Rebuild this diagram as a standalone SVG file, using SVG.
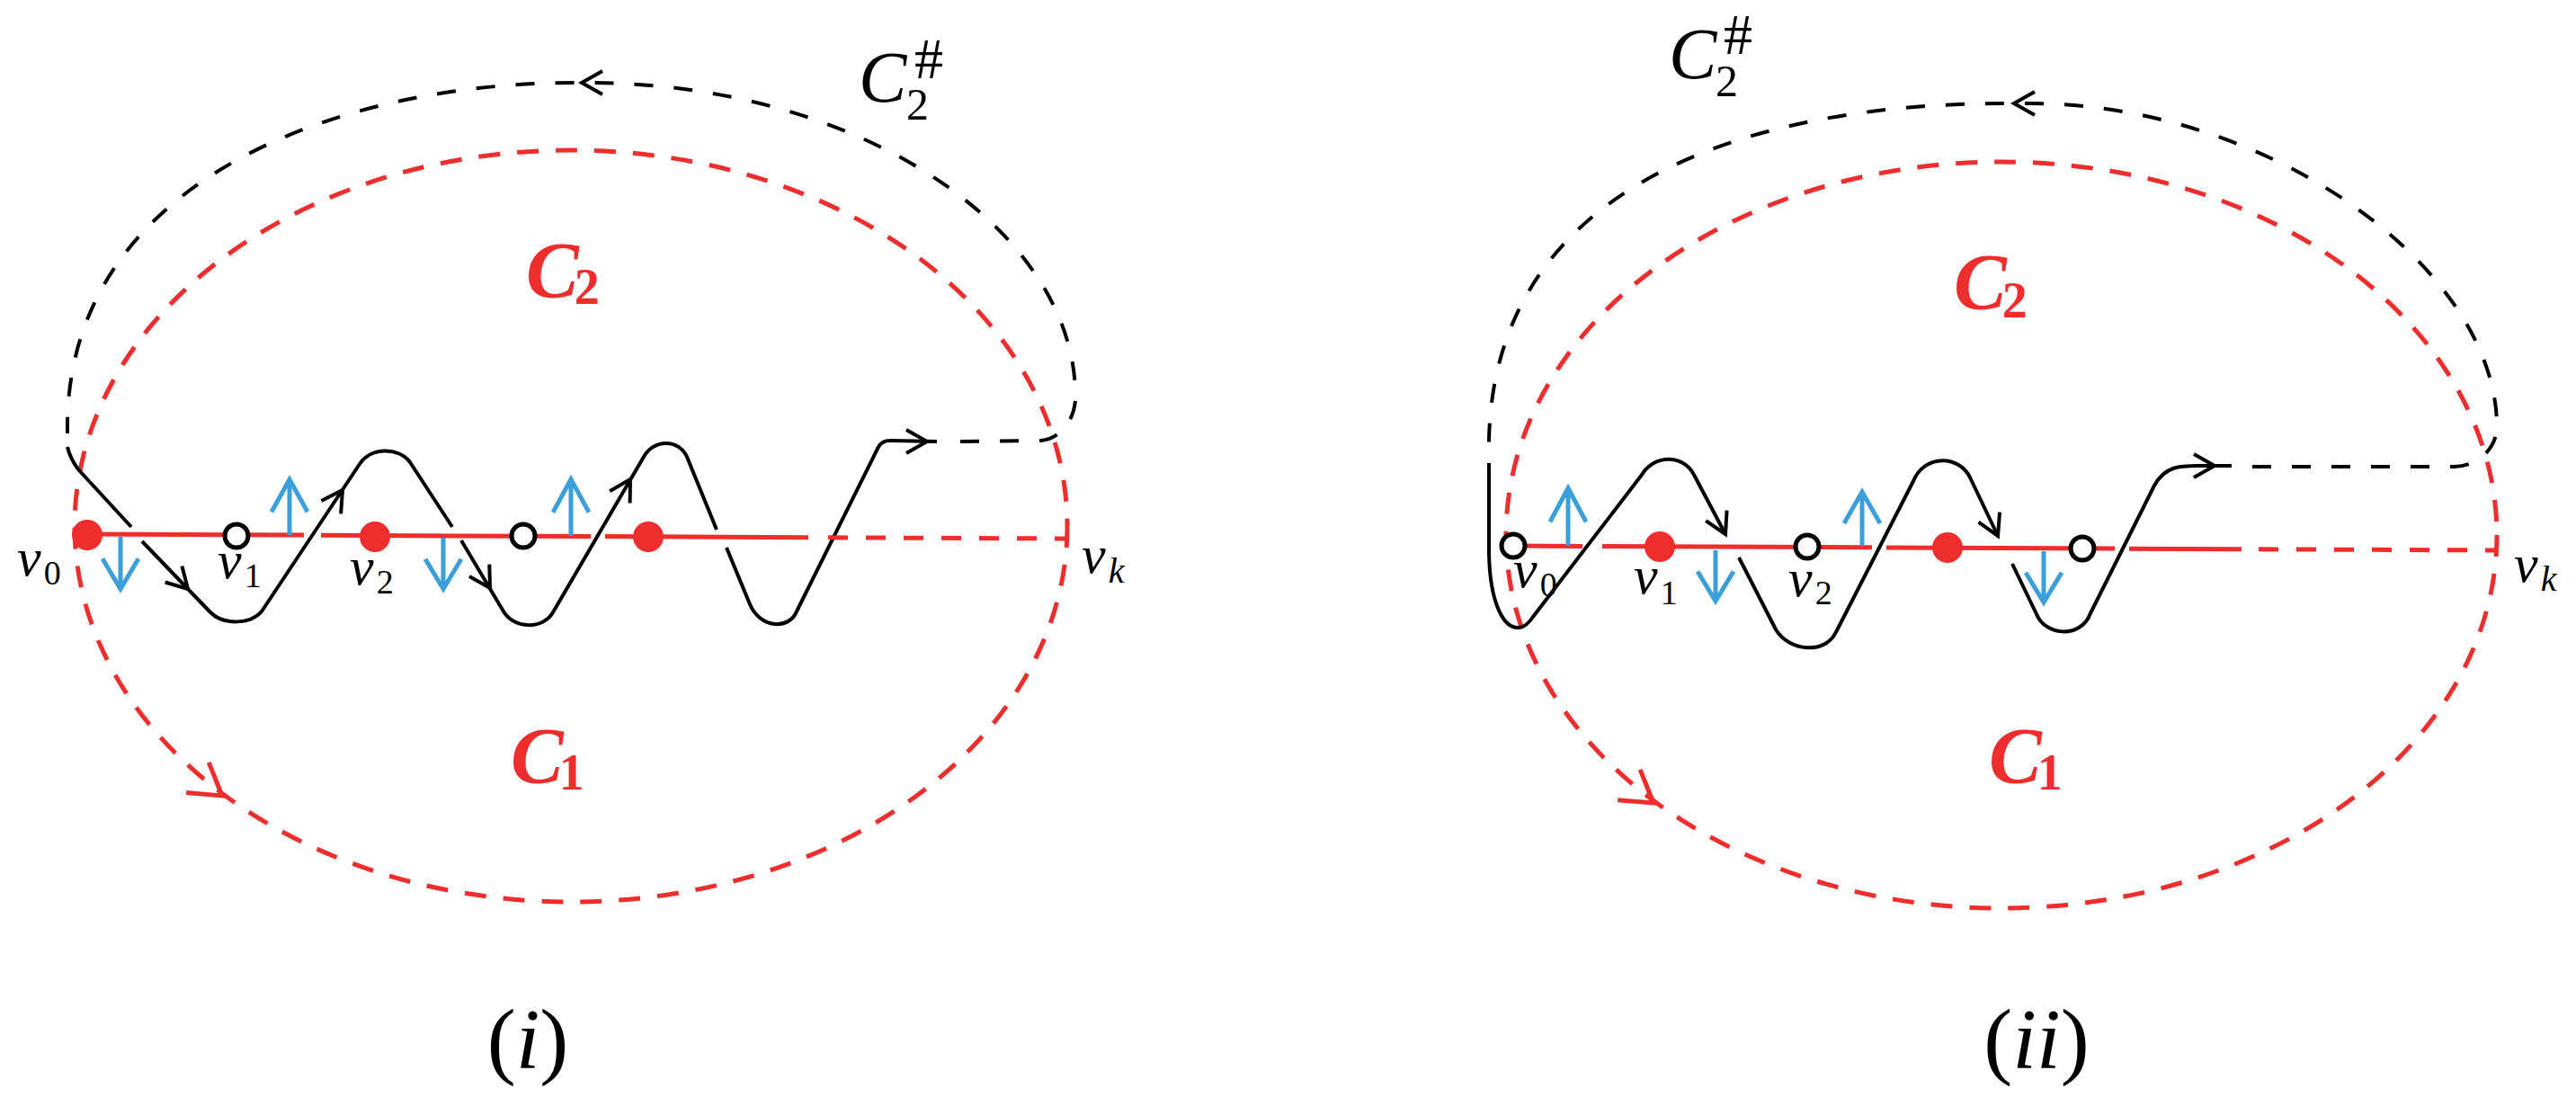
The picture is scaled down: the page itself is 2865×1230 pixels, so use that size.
<svg xmlns="http://www.w3.org/2000/svg" xmlns:xlink="http://www.w3.org/1999/xlink" width="2865" height="1230" viewBox="0 0 2865 1230">
<style>
.bg{fill:#fff}
.red-ell{fill:none;stroke:#ee2d2d;stroke-width:5;stroke-dasharray:24 19}
.red-solid{fill:none;stroke:#ee2d2d;stroke-width:5}
.red-hdash{fill:none;stroke:#ee2d2d;stroke-width:5;stroke-dasharray:22 20}
.blk{fill:none;stroke:#000;stroke-width:4;stroke-linejoin:round}
.blk-dash{fill:none;stroke:#000;stroke-width:4;stroke-dasharray:21 23}
.ah{fill:none;stroke:#000;stroke-width:4}
.rah{fill:none;stroke:#ee2d2d;stroke-width:5}
.blue{fill:none;stroke:#3d9fda;stroke-width:5}
.dot{fill:#ee2d2d}
.ring{fill:#fff;stroke:#000;stroke-width:5}
.lbl{font-style:italic;fill:#000}
.up{font-style:normal}
.rlbl{font-style:italic;font-weight:bold;fill:#ee2d2d}
.cap{fill:#000}
</style>
<defs>
<path id="ahp" d="M-23,-13 L0,0 L-23,13"/>
<path id="rahp" d="M-34,-21 L0,0 L-34,21"/>
<path id="bup" d="M0,0 V-60 M-20,-25 L0,-60 L20,-25"/>
</defs>
<rect class="bg" x="0" y="0" width="2865" height="1230"/>

<!-- ================= Panel (i) ================= -->
<g id="panel-i" font-family="'Liberation Serif', 'Times New Roman', serif">
<g id="connectors-i">
<ellipse id="C1C2-cycle-i" class="red-ell" cx="635" cy="585" rx="552" ry="418"/>
<use class="rah" xlink:href="#rahp" transform="translate(247,885) rotate(36.6)"/>
<path id="C2sharp-i" class="blk-dash" d="M1068,491 L1158,490 C1178,488 1194,470 1196,445 C1200,260 960,90 647,92 C380,90 70,200 75,482"/>
<use class="ah" xlink:href="#ahp" transform="translate(647,92) rotate(180)"/>
<path id="walk-i" class="blk" d="M75,497 Q78,510 87,522 L146,586 M158,602 L234,681 C248,695 278,695 291,680 L400,516 C412,497 444,497 456,514 L503,586 M513,601 L560,680 C572,700 604,700 615,681 L716,508 C727,488 755,488 764,508 L797,589 M808,609 L834,672 C846,700 878,700 886,680 L977,497 Q981,490 990,490 L1042,491"/>
<use class="ah" xlink:href="#ahp" transform="translate(209,655) rotate(46)"/>
<use class="ah" xlink:href="#ahp" transform="translate(381,545) rotate(-56.4)"/>
<use class="ah" xlink:href="#ahp" transform="translate(545,654) rotate(59)"/>
<use class="ah" xlink:href="#ahp" transform="translate(701,533) rotate(-59.7)"/>
<use class="ah" xlink:href="#ahp" transform="translate(1031,491)"/>
<path id="path-i" class="red-solid" d="M97,594 L338,595.1 M357,595.2 L657,596.6 M673,596.6 L899,597.7"/>
<path id="path-i-dash" class="red-hdash" d="M921,597.8 L1185,599"/>
<use class="blue" xlink:href="#bup" transform="translate(134,597) scale(1,-0.97)"/>
<use class="blue" xlink:href="#bup" transform="translate(322,595) scale(1,1.03)"/>
<use class="blue" xlink:href="#bup" transform="translate(493,598) scale(1,-0.95)"/>
<use class="blue" xlink:href="#bup" transform="translate(635,596) scale(1,1.05)"/>
</g>
<g id="node-i-v0"><circle class="dot" cx="97" cy="595" r="17"/><text class="lbl" x="19" y="640" font-size="60">v<tspan class="up" font-size="38" dx="3" dy="10">0</tspan></text></g>
<g id="node-i-v1"><circle class="ring" cx="263" cy="596" r="13"/><text class="lbl" x="242" y="643" font-size="60">v<tspan class="up" font-size="38" dx="3" dy="10">1</tspan></text></g>
<g id="node-i-v2"><circle class="dot" cx="417" cy="597" r="17"/><text class="lbl" x="389" y="650" font-size="60">v<tspan class="up" font-size="38" dx="3" dy="10">2</tspan></text></g>
<g id="node-i-v3"><circle class="ring" cx="582" cy="596" r="13"/></g>
<g id="node-i-v4"><circle class="dot" cx="721" cy="597" r="17"/></g>
<g id="node-i-vk"><text class="lbl" x="1203" y="637" font-size="60">v<tspan font-size="40" dx="3" dy="11">k</tspan></text></g>
<g id="label-i-C2"><text class="rlbl" x="585" y="330" font-size="88">C<tspan class="up" font-size="56" dx="-5" dy="8">2</tspan></text></g>
<g id="label-i-C1"><text class="rlbl" x="568" y="870" font-size="88">C<tspan class="up" font-size="56" dx="-5" dy="8">1</tspan></text></g>
<g id="label-i-C2sharp"><text class="lbl" font-size="80"><tspan x="955" y="113">C</tspan><tspan class="up" x="1008" y="133" font-size="50">2</tspan><tspan class="up" x="1017" y="87" font-size="64">#</tspan></text></g>
<g id="caption-i"><text class="cap" x="587" y="1188" font-size="96" text-anchor="middle">(<tspan font-style="italic">i</tspan>)</text></g>
</g>

<!-- ================= Panel (ii) ================= -->
<g id="panel-ii" font-family="'Liberation Serif', 'Times New Roman', serif">
<g id="connectors-ii">
<ellipse id="C1C2-cycle-ii" class="red-ell" cx="2226" cy="595" rx="551" ry="415"/>
<use class="rah" xlink:href="#rahp" transform="translate(1839,893) rotate(36.4)"/>
<path id="C2sharp-ii" class="blk-dash" d="M2505,519 L2730,519 C2752,518 2772,505 2777,480 C2782,300 2520,110 2246,115 C1920,112 1650,220 1656,508"/>
<use class="ah" xlink:href="#ahp" transform="translate(2240,115) rotate(180)"/>
<path id="walk-ii" class="blk" d="M1656,515 L1656,615 C1657,670 1672,700 1690,698 C1697,697 1701,692 1705,686 L1826,528 C1840,505 1872,505 1884,528 L1919,594 M1934,620 L1975,700 C1990,725 2030,728 2042,703 L2128,535 C2140,505 2180,505 2192,533 L2222,596 M2238,627 L2265,683 C2275,708 2315,710 2325,682 L2396,540 C2408,518 2425,518 2445,518 L2482,518"/>
<use class="ah" xlink:href="#ahp" transform="translate(1919,594) rotate(64)"/>
<use class="ah" xlink:href="#ahp" transform="translate(2222,596) rotate(65)"/>
<use class="ah" xlink:href="#ahp" transform="translate(2463,518)"/>
<path id="path-ii" class="red-solid" d="M1683,607 L1760,607.4 M1782,607.5 L2082,608.8 M2098,608.9 L2352,610.1 M2368,610.2 L2493,610.7"/>
<path id="path-ii-dash" class="red-hdash" d="M2512,610.8 L2775,612"/>
<use class="blue" xlink:href="#bup" transform="translate(1744,607) scale(1,1.07)"/>
<use class="blue" xlink:href="#bup" transform="translate(1908,612) scale(1,-0.94)"/>
<use class="blue" xlink:href="#bup" transform="translate(2071,607) scale(1,1)"/>
<use class="blue" xlink:href="#bup" transform="translate(2273,613) scale(1,-0.95)"/>
</g>
<g id="node-ii-v0"><circle class="ring" cx="1683" cy="607" r="13"/><text class="lbl" x="1683" y="653" font-size="60">v<tspan class="up" font-size="38" dx="3" dy="10">0</tspan></text></g>
<g id="node-ii-v1"><circle class="dot" cx="1846" cy="608" r="17"/><text class="lbl" x="1817" y="660" font-size="60">v<tspan class="up" font-size="38" dx="3" dy="12">1</tspan></text></g>
<g id="node-ii-v2"><circle class="ring" cx="2010" cy="608" r="13"/><text class="lbl" x="1989" y="663" font-size="60">v<tspan class="up" font-size="38" dx="3" dy="9">2</tspan></text></g>
<g id="node-ii-v3"><circle class="dot" cx="2166" cy="609" r="17"/></g>
<g id="node-ii-v4"><circle class="ring" cx="2316" cy="610" r="13"/></g>
<g id="node-ii-vk"><text class="lbl" x="2796" y="647" font-size="60">v<tspan font-size="40" dx="3" dy="10">k</tspan></text></g>
<g id="label-ii-C2"><text class="rlbl" x="2173" y="343" font-size="88">C<tspan class="up" font-size="56" dx="-5" dy="10">2</tspan></text></g>
<g id="label-ii-C1"><text class="rlbl" x="2212" y="870" font-size="88">C<tspan class="up" font-size="56" dx="-5" dy="8">1</tspan></text></g>
<g id="label-ii-C2sharp"><text class="lbl" font-size="80"><tspan x="1856" y="87">C</tspan><tspan class="up" x="1908" y="107" font-size="50">2</tspan><tspan class="up" x="1917" y="60" font-size="64">#</tspan></text></g>
<g id="caption-ii"><text class="cap" x="2265" y="1188" font-size="96" text-anchor="middle">(<tspan font-style="italic">ii</tspan>)</text></g>
</g>
</svg>
